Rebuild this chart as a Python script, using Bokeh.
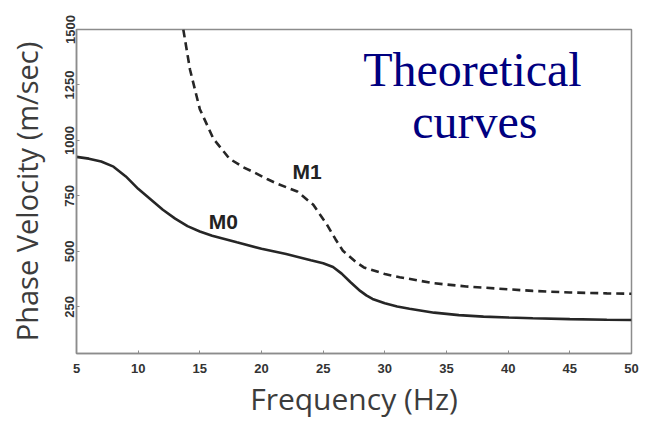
from bokeh.plotting import figure
from bokeh.models import Range1d, FixedTicker, Label
from bokeh.embed import file_html
from bokeh.resources import INLINE

# ---- data ----
freq_m0 = [5, 6, 7, 8, 9, 10, 11, 12, 13, 14, 15, 16, 17, 18, 20, 22, 24, 25, 25.8,
           26.5, 27.2, 28, 28.5, 29, 30, 31, 32, 34, 36, 38, 40, 42, 45, 48, 50]
vel_m0 = [926, 918, 905, 882, 838, 782, 735, 688, 648, 614, 590, 571, 556, 541, 512,
          488, 460, 447, 430, 400, 362, 322, 302, 286, 266, 252, 242, 224, 213, 206,
          202, 199, 195, 192, 191]

freq_m1 = [13.66, 14.2, 15, 16.1, 17.4, 18.5, 19.3, 20.5, 21.2, 22.9, 24.2, 25.3, 26,
           26.6, 27.7, 28.3, 29.1, 30, 31.2, 33.9, 36.6, 39.3, 42, 45, 48, 50]
vel_m1 = [1500, 1320, 1141, 1008, 918, 880, 859, 825, 807, 770, 710, 621, 555,
          503, 450, 428, 414, 398, 384, 357, 342, 332, 322, 315, 311, 309]

x_ticks = [5, 10, 15, 20, 25, 30, 35, 40, 45, 50]
y_ticks = [250, 500, 750, 1000, 1250, 1500]

curve_labels = ["M0", "M1"]
curve_label_x = [16.9, 23.7]
curve_label_y = [637, 860]

title_lines = ["Theoretical", "curves"]
title_x = [37.1, 37.3]
title_y = [1321, 1084]

AXIS_GRAY = "#8c8c8c"

p = figure(width=640, height=421, output_backend="svg", toolbar_location=None,
           x_range=Range1d(5, 50), y_range=Range1d(40, 1500),
           min_border_left=76, min_border_right=9, min_border_top=29,
           min_border_bottom=65)

p.background_fill_color = "white"
p.border_fill_color = "white"
p.outline_line_color = AXIS_GRAY
p.outline_line_width = 1.5
p.xgrid.visible = False
p.ygrid.visible = False

p.line(freq_m0, vel_m0, line_color="#262626", line_width=2.6)
p.line(freq_m1, vel_m1, line_color="#262626", line_width=2.6, line_dash="8 5")

for ax in (p.xaxis[0], p.yaxis[0]):
    ax.axis_line_color = AXIS_GRAY
    ax.axis_line_width = 1.5
    ax.major_tick_line_color = AXIS_GRAY
    ax.major_tick_in = 3
    ax.major_tick_out = 0
    ax.minor_tick_line_color = None
    ax.major_label_text_font = "Liberation Sans"
    ax.major_label_text_font_style = "bold"
    ax.major_label_text_font_size = "13px"
    ax.major_label_text_color = "#333333"
    ax.axis_label_text_font = "Open Sans"
    ax.axis_label_text_font_style = "normal"
    ax.axis_label_text_color = "#3c3c3c"

p.xaxis.ticker = FixedTicker(ticks=x_ticks)
p.yaxis.ticker = FixedTicker(ticks=y_ticks)
p.xaxis.axis_label = "Frequency (Hz)"
p.yaxis.axis_label = "Phase Velocity (m/sec)"
p.xaxis.axis_label_text_font_size = "30px"
p.yaxis.axis_label_text_font_size = "29px"
p.xaxis.major_label_standoff = 10
p.xaxis.axis_label_standoff = 2
p.yaxis.major_label_standoff = 2
p.yaxis.axis_label_standoff = 17
p.yaxis.major_label_orientation = "vertical"

for txt, lx, ly in zip(curve_labels, curve_label_x, curve_label_y):
    p.add_layout(Label(x=lx, y=ly, text=txt, text_align="center", text_baseline="middle",
                       text_font="Liberation Sans", text_font_style="bold",
                       text_font_size="21px", text_color="#222222"))

for txt, tx, ty in zip(title_lines, title_x, title_y):
    p.add_layout(Label(x=tx, y=ty, text=txt, text_align="center",
                       text_baseline="alphabetic", text_font="Liberation Serif",
                       text_font_size="48px", text_color="#000080"))

open("out.html", "w").write(file_html(p, INLINE))
